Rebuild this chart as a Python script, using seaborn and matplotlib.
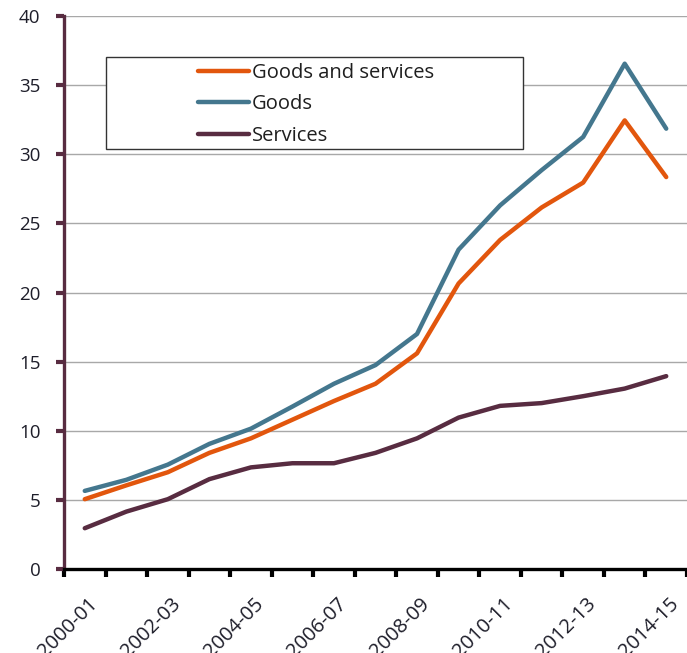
import numpy as np
import pandas as pd
import seaborn as sns
import matplotlib
matplotlib.use("Agg")
import matplotlib.pyplot as plt
import matplotlib.transforms as mtransforms
from matplotlib.patches import Rectangle

years = ["2000-01", "2001-02", "2002-03", "2003-04", "2004-05", "2005-06",
         "2006-07", "2007-08", "2008-09", "2009-10", "2010-11", "2011-12",
         "2012-13", "2013-14", "2014-15"]
goods_and_services = [5.05, 6.05, 7.0, 8.4, 9.45, 10.8, 12.15, 13.4, 15.6,
                      20.65, 23.8, 26.15, 27.95, 32.45, 28.35]
goods = [5.65, 6.45, 7.55, 9.05, 10.15, 11.75, 13.4, 14.75, 17.0,
         23.1, 26.3, 28.85, 31.25, 36.55, 31.85]
services = [2.95, 4.15, 5.05, 6.5, 7.35, 7.65, 7.65, 8.4, 9.45,
            10.95, 11.8, 12.0, 12.5, 13.05, 13.95]

series_names = ["Goods and services", "Goods", "Services"]
palette = {"Goods and services": "#E2560D",
           "Goods": "#44778E",
           "Services": "#582C41"}

df = pd.DataFrame({
    "pos": list(range(len(years))) * 3,
    "value": goods_and_services + goods + services,
    "series": [s for s in series_names for _ in years],
})

sns.set_theme(style="white")
plt.rcParams["font.family"] = ["Open Sans", "DejaVu Sans"]

W, H = 687, 653
fig = plt.figure(figsize=(W / 100, H / 100), dpi=100)
ax = fig.add_axes([64 / W, 1 - 569 / H, 1 - 64 / W, (569 - 16) / H])

sns.lineplot(data=df, x="pos", y="value", hue="series", hue_order=series_names,
             palette=palette, linewidth=3.2, ax=ax, legend=False,
             solid_joinstyle="round", solid_capstyle="round", zorder=4)

# category axis: each year sits between boundary tick marks
ax.set_xlim(-0.5, -0.5 + (W - 64) / 41.9)
ax.set_ylim(0, 40)
ax.set_yticks(np.arange(0, 41, 5))
ax.set_xticks(range(0, len(years), 2))
ax.set_xticklabels(years[::2])
ax.set_xticks(np.arange(-0.5, len(years) - 0.4, 1.0), minor=True)
ax.set_xlabel("")
ax.set_ylabel("")

ax.yaxis.grid(True, color="#A8A8A8", linewidth=1.0, zorder=0)
ax.xaxis.grid(False)
ax.set_axisbelow(True)

for s in ["top", "right"]:
    ax.spines[s].set_visible(False)
ax.spines["left"].set_color("#582C41")
ax.spines["left"].set_linewidth(2.4)
ax.spines["bottom"].set_color("black")
ax.spines["bottom"].set_linewidth(2.4)
ax.spines["bottom"].set_zorder(5)

ax.tick_params(axis="y", which="major", direction="out", length=6, width=3,
               color="#582C41", labelsize=13.5, labelcolor="#1E1E2A", pad=11, left=True)
ax.tick_params(axis="x", which="major", length=0, labelsize=14.5,
               labelcolor="#1E1E2A", pad=18, bottom=True)
ax.tick_params(axis="x", which="minor", direction="out", length=6, width=3,
               color="black", bottom=True)

offset = mtransforms.ScaledTranslation(3 / 100, 0, fig.dpi_scale_trans)
for lbl in ax.get_xticklabels():
    lbl.set_rotation(45)
    lbl.set_ha("right")
    lbl.set_va("top")
    lbl.set_rotation_mode("anchor")
    lbl.set_transform(lbl.get_transform() + offset)

# legend box with the entries set well inside it
box = Rectangle((106 / W, 1 - 149 / H), (523 - 106) / W, (149 - 57) / H,
                transform=fig.transFigure, facecolor="white",
                edgecolor="#333333", linewidth=1.0, zorder=6)
fig.patches.append(box)

handles = [plt.Line2D([], [], color=palette[n], linewidth=3.2,
                      solid_capstyle="round") for n in series_names]
leg = fig.legend(handles, series_names, loc="upper left",
                 bbox_to_anchor=(198 / W, 1 - 63 / H), frameon=False,
                 fontsize=14.5, handlelength=2.55, handletextpad=0.12,
                 labelspacing=0.57, borderpad=0, borderaxespad=0)
for t in leg.get_texts():
    t.set_color("#1E1E1E")
leg.set_zorder(7)

fig.savefig("out.png", dpi=100)
